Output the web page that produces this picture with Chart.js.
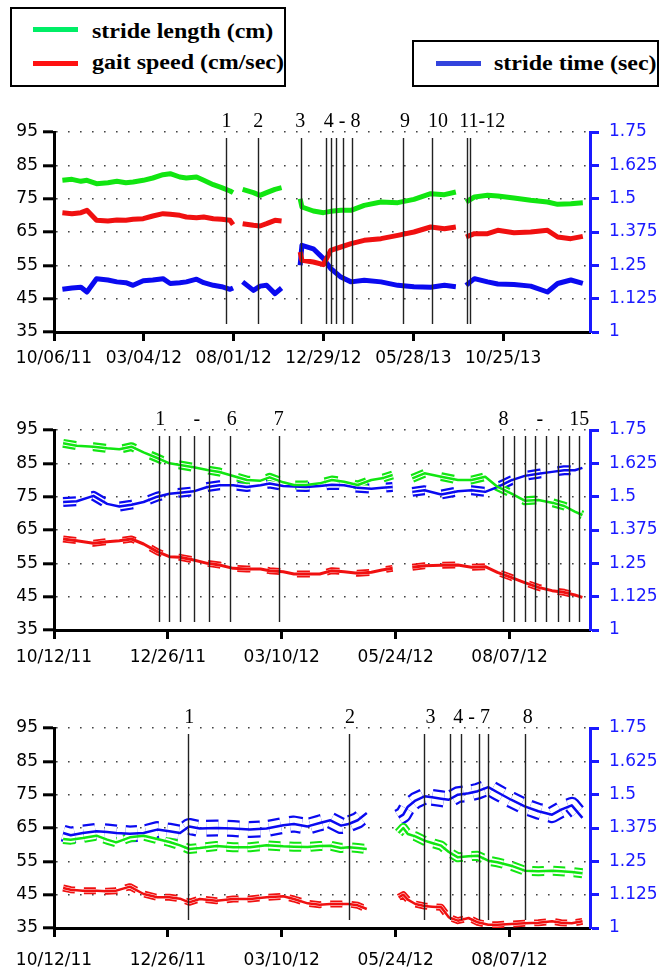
<!DOCTYPE html>
<html lang="en">
<head>
<meta charset="UTF-8">
<title>Gait measures</title>
<script src="https://cdn.jsdelivr.net/npm/chart.js@4.4.1/dist/chart.umd.min.js"></script>
<style>
  body { margin: 0; background: #fff; width: 662px; height: 969px; position: relative; overflow: hidden; }
  canvas { position: absolute; left: 0; }
  .box { position: absolute; border: 2px solid #000; }
  .swatch { position: absolute; width: 45px; height: 5px; }
  .label { position: absolute; font: bold 20px "Liberation Serif", serif; line-height: 24px;
           white-space: nowrap; transform: scaleX(1.2); transform-origin: left center; }
</style>
</head>
<body>
  <!-- legends -->
  <div class="box" style="left:10px;top:7px;width:272px;height:76px"></div>
  <div class="swatch" style="left:33px;top:27px;background:#00ee66"></div>
  <div class="label" style="left:92px;top:19px">stride length (cm)</div>
  <div class="swatch" style="left:33px;top:61px;background:#ff1111"></div>
  <div class="label" style="left:92px;top:50px">gait speed (cm/sec)</div>

  <div class="box" style="left:412px;top:40px;width:243px;height:43px"></div>
  <div class="swatch" style="left:436px;top:61px;background:#3344dd"></div>
  <div class="label" style="left:494px;top:51px">stride time (sec)</div>

  <canvas id="c1" width="662" height="275" style="top:100px"></canvas>
  <canvas id="c2" width="662" height="275" style="top:398px"></canvas>
  <canvas id="c3" width="662" height="273" style="top:696px"></canvas>

<script>
// ---- panel 1 (days since 10/06/11) ----
const p1TickDays = [0, 150, 300, 450, 600, 750];
const p1TickLabels = ['10/06/11', '03/04/12', '08/01/12', '12/29/12', '05/28/13', '10/25/13'];
const p1Days = [14,30,45,55,71,90,105,120,132,149,165,182,194,210,221,238,250,266,280,294,299,305,
  315,333,344,355,369,380,395,411,414,433,450,462,479,496,518,546,574,601,629,652,671,680,
  688,702,724,741,768,796,824,841,863,883];
const p1Length = [80.5,80.8,80.2,80.5,79.5,79.8,80.2,79.8,80.0,80.5,81.2,82.2,82.5,81.5,81.2,81.5,80.5,79.2,78.3,77.3,76.8,null,
  77.8,76.8,76.0,76.8,77.8,78.3,null,75.0,72.5,71.3,70.8,71.2,71.5,71.5,73.0,74.0,73.8,74.8,76.5,76.2,77.0,null,
  74.0,75.5,76.0,75.8,75.2,74.5,74.0,73.3,73.5,73.8];
const p1Speed = [70.8,70.5,70.8,71.5,68.5,68.3,68.6,68.5,68.8,69.0,69.8,70.5,70.3,70.0,69.5,69.3,69.5,69.0,68.8,68.5,67.2,null,
  67.5,67.0,66.8,67.5,68.5,68.3,null,59.0,56.5,56.0,55.2,59.5,60.5,61.5,62.5,63.0,64.0,65.0,66.5,66.0,66.5,null,
  63.5,64.5,64.5,65.5,64.8,65.0,65.5,63.5,63.0,63.7];
const p1Time = [1.160,1.165,1.168,1.150,1.200,1.195,1.188,1.185,1.175,1.192,1.195,1.200,1.182,1.185,1.188,1.198,1.185,1.175,1.170,1.160,1.165,null,
  1.188,1.156,1.172,1.175,1.144,1.165,null,1.250,1.325,1.312,1.275,1.238,1.206,1.188,1.194,1.188,1.175,1.170,1.168,1.175,1.170,null,
  1.175,1.200,1.188,1.180,1.178,1.172,1.150,1.182,1.195,1.182];
const p1EventDays = [287,341,412,454,463,471,483,497,583,631,689,694];
const p1LabelDays = [288,341,411,481,586,641,715];
const p1LabelText = ['1','2','3','4 - 8','9','10','11-12'];

// ---- panel 2 (days since 10/12/11) ----
const p2TickDays = [0, 75, 150, 225, 300];
const p2TickLabels = ['10/12/11', '12/26/11', '03/10/12', '05/24/12', '08/07/12'];
const p2Days = [6,15,26,35,43,51,59,68,76,83,92,101,109,118,127,136,142,151,158,166,175,183,191,200,209,216,223,229,
  236,244,255,266,275,284,292,301,310,319,328,336,343,348];
const p2Length = [91.0,90.3,90.0,89.5,89.2,90.0,88.3,86.6,85.0,84.5,83.8,83.0,82.4,81.2,80.0,79.8,80.8,79.3,78.5,78.5,79.0,80.0,79.5,78.5,80.0,80.5,81.5,null,
  80.5,82.0,81.0,80.0,80.0,81.0,78.0,76.0,73.8,74.0,73.2,72.2,70.5,69.5];
const p2Speed = [62.3,61.8,61.0,61.5,61.8,62.3,60.8,58.5,57.0,56.8,56.0,55.0,54.5,53.5,53.3,53.3,52.8,52.5,51.8,51.8,51.8,52.8,52.5,52.0,52.3,53.0,53.5,null,
  53.8,54.3,54.4,54.5,53.8,54.0,52.3,50.8,49.2,47.8,46.8,46.3,45.5,44.8];
const p2Time = [1.480,1.483,1.503,1.473,1.463,1.470,1.480,1.500,1.511,1.515,1.520,1.536,1.543,1.543,1.536,1.543,1.549,1.540,1.538,1.536,1.540,1.545,1.543,1.533,1.530,1.533,1.536,null,
  1.518,1.524,1.508,1.520,1.524,1.518,1.536,1.561,1.578,1.586,1.593,1.599,1.599,1.608];
const p2EventDays = [69,76,83,92,102,116,148,296,303,310,317,324,332,339,346];
const p2LabelDays = [70,94,117,148,296,320,346];
const p2LabelText = ['1','-','6','7','8','-','15'];

// ---- panel 3 (days since 10/12/11) ----
const p3TickDays = p2TickDays;
const p3TickLabels = p2TickLabels;
const p3Days = [6,11,19,28,35,41,50,59,68,76,83,89,96,107,118,129,140,151,158,167,175,182,189,194,200,206,215,
  227,230,233,238,244,249,255,260,266,273,279,286,292,301,310,319,328,334,341,348];
const p3Length = [61.7,61.5,62.0,62.7,61.5,60.7,62.2,62.7,61.7,60.8,59.8,58.7,59.0,59.6,59.2,59.2,59.8,59.5,59.4,59.3,59.6,59.7,59.0,59.2,59.0,58.7,null,
  63.5,65.0,63.2,62.5,61.2,60.5,59.7,57.8,56.2,56.5,56.7,55.2,54.7,53.7,52.2,52.0,52.2,52.0,51.8,51.4];
const p3Speed = [47.0,46.5,46.2,46.2,46.0,46.2,47.4,45.2,44.2,44.2,43.8,42.7,43.7,43.2,43.7,43.7,44.2,44.5,43.7,42.4,42.0,42.2,42.2,42.2,41.8,40.7,null,
  44.2,45.0,43.5,42.2,41.6,41.4,41.2,38.2,37.2,38.0,36.7,36.0,36.0,36.2,36.4,36.6,37.0,36.6,36.4,37.0];
const p3Time = [1.356,1.348,1.356,1.363,1.360,1.356,1.353,1.356,1.369,1.363,1.356,1.381,1.373,1.375,1.373,1.369,1.373,1.385,1.390,1.381,1.394,1.404,1.384,1.390,1.404,1.431,null,
  1.415,1.425,1.455,1.478,1.494,1.490,1.485,1.481,1.500,1.505,1.513,1.528,1.509,1.481,1.456,1.438,1.425,1.444,1.460,1.413];
const p3EventDays = [88,194,244,261,268,280,286,310];
const p3LabelDays = [89,195,248,275,312];
const p3LabelText = ['1','2','3','4 - 7','8'];

const GREEN = '#11e611', RED = '#f01010', BLUE = '#0a0af0', AXIS_BLUE = '#1a1aff';
const TICK_FONT = { family: 'DejaVu Sans', size: 17 };

function toPoints(days, vals) {
  return days.map((d, i) => ({ x: d, y: vals[i] }));
}

// a centre line, optionally with a dashed confidence band drawn as a thick
// dashed stroke with a white core
function series(days, vals, color, axis, band) {
  const data = toPoints(days, vals);
  const base = { data, yAxisID: axis, pointRadius: 0, tension: 0, spanGaps: false, borderJoinStyle: 'round' };
  const sets = [{ ...base, borderColor: color, borderWidth: band.line, order: 1 }];
  if (band.outer) {
    sets.push({ ...base, borderColor: color, borderWidth: band.outer, borderDash: band.dash, order: 3 });
    sets.push({ ...base, borderColor: '#fff', borderWidth: band.inner, borderDash: band.dash, order: 2 });
  }
  return sets;
}

// vertical event markers with numbers above the plot
const eventPlugin = {
  id: 'events',
  afterDatasetsDraw(chart, args, opts) {
    const { ctx, chartArea } = chart;
    const xs = chart.scales.x;
    ctx.save();
    ctx.strokeStyle = '#222';
    ctx.lineWidth = 1.4;
    opts.days.forEach(d => {
      const x = Math.round(xs.getPixelForValue(d)) + 0.5;
      ctx.beginPath();
      ctx.moveTo(x, chartArea.top + 6);
      ctx.lineTo(x, chartArea.bottom - 8);
      ctx.stroke();
    });
    ctx.fillStyle = '#000';
    ctx.font = '20px "Liberation Serif", serif';
    ctx.textAlign = 'center';
    ctx.textBaseline = 'alphabetic';
    opts.labelDays.forEach((d, i) => {
      ctx.fillText(opts.labels[i], xs.getPixelForValue(d), chartArea.top - 5);
    });
    ctx.restore();
  }
};

function makeChart(id, cfg) {
  const xAxisH = cfg.xAxisH;
  return new Chart(document.getElementById(id), {
    type: 'line',
    data: { datasets: cfg.datasets },
    plugins: [eventPlugin],
    options: {
      responsive: false,
      animation: false,
      layout: { padding: { top: 32, left: 0, right: 0, bottom: 0 } },
      plugins: {
        legend: { display: false },
        tooltip: { enabled: false },
        events: { days: cfg.eventDays, labelDays: cfg.labelDays, labels: cfg.labelText }
      },
      scales: {
        x: {
          type: 'linear', min: 0, max: cfg.xMax,
          afterBuildTicks: s => { s.ticks = cfg.tickDays.map(v => ({ value: v })); },
          afterFit: s => { s.height = xAxisH; },
          ticks: {
            autoSkip: false, maxRotation: 0, minRotation: 0, padding: cfg.labelPad,
            color: '#000', font: TICK_FONT,
            callback: v => cfg.tickLabels[cfg.tickDays.indexOf(v)]
          },
          grid: { drawOnChartArea: false, drawTicks: true, tickLength: 9, tickWidth: 3, tickColor: '#000' },
          border: { color: '#000', width: 3 }
        },
        y: {
          position: 'left', min: 35, max: 95,
          afterFit: s => { s.width = 54; },
          ticks: { stepSize: 10, color: '#000', font: TICK_FONT, padding: 5, callback: v => String(v) },
          grid: { color: '#444', lineWidth: 1.6, tickLength: 11, tickWidth: 3, tickColor: '#000' },
          border: { color: '#000', width: 3, dash: [1.6, 10.4] }
        },
        y2: {
          position: 'right', min: 1, max: 1.75,
          afterFit: s => { s.width = 72; },
          ticks: { stepSize: 0.125, color: AXIS_BLUE, font: TICK_FONT, padding: 10, callback: v => String(v) },
          grid: { drawOnChartArea: false, tickLength: 9, tickWidth: 3, tickColor: AXIS_BLUE },
          border: { color: AXIS_BLUE, width: 3 }
        }
      }
    }
  });
}

const thick = { line: 5 };

makeChart('c1', {
  xMax: 895, xAxisH: 43, labelPad: 7,
  tickDays: p1TickDays, tickLabels: p1TickLabels,
  eventDays: p1EventDays, labelDays: p1LabelDays, labelText: p1LabelText,
  datasets: [
    ...series(p1Days, p1Length, GREEN, 'y', thick),
    ...series(p1Days, p1Speed, RED, 'y', thick),
    ...series(p1Days, p1Time, BLUE, 'y2', thick)
  ]
});

makeChart('c2', {
  xMax: 353, xAxisH: 43, labelPad: 8,
  tickDays: p2TickDays, tickLabels: p2TickLabels,
  eventDays: p2EventDays, labelDays: p2LabelDays, labelText: p2LabelText,
  datasets: [
    ...series(p2Days, p2Length, GREEN, 'y', { line: 2.5, outer: 9, inner: 4.5, dash: [13, 17] }),
    ...series(p2Days, p2Speed, RED, 'y', { line: 3, outer: 7, inner: 3.5, dash: [13, 17] }),
    ...series(p2Days, p2Time, BLUE, 'y2', { line: 2.5, outer: 10, inner: 5.5, dash: [13, 17] })
  ]
});

makeChart('c3', {
  xMax: 353, xAxisH: 41, labelPad: 13,
  tickDays: p3TickDays, tickLabels: p3TickLabels,
  eventDays: p3EventDays, labelDays: p3LabelDays, labelText: p3LabelText,
  datasets: [
    ...series(p3Days, p3Length, GREEN, 'y', { line: 2.5, outer: 10, inner: 6, dash: [12, 9] }),
    ...series(p3Days, p3Speed, RED, 'y', { line: 2.5, outer: 7, inner: 3.5, dash: [12, 9] }),
    ...series(p3Days, p3Time, BLUE, 'y2', { line: 2.5, outer: 17, inner: 12.5, dash: [12, 9] })
  ]
});
</script>
</body>
</html>
